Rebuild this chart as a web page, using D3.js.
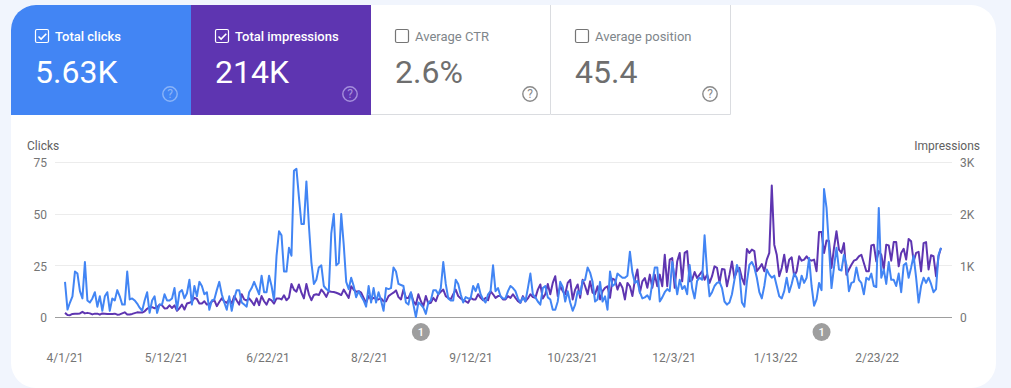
<!DOCTYPE html>
<html>
<head>
<meta charset="utf-8">
<script src="https://d3js.org/d3.v7.min.js"></script>
<style>
  html, body { margin: 0; padding: 0; background: #f1f5fd; overflow: hidden; }
  svg { display: block; font-family: Roboto, sans-serif; }
</style>
</head>
<body>
<svg id="chart"></svg>
<script>
// Metric tiles
const tileLabels = ["Total clicks", "Total impressions", "Average CTR", "Average position"];
const tileValues = ["5.63K", "214K", "2.6%", "45.4"];
const tileChecked = [true, true, false, false];

// Axis ticks
const clickTicks = [0, 25, 50, 75];
const impressionTicks = [0, 1000, 2000, 3000];
const impressionTickLabels = ["0", "1K", "2K", "3K"];
const dateTickLabels = ["4/1/21", "5/12/21", "6/22/21", "8/2/21", "9/12/21", "10/23/21", "12/3/21", "1/13/22", "2/23/22"];
const annotationDates = ["8/22/21", "1/30/22"];

// Daily values, first day is 4/1/21
const clicks = [
  17,3.6,7,10,22,21,12.5,9,26.6,8,7,9,12,5,10,3,10,12,3,9,8,13,10,6,6,
  22,8.5,9,8,6.5,4.5,3,8,12,2,8,10,2,6,6,11,8,8,9,14,3.5,12,13,9,11.5,
  18,6,15,10,17,15,11,12,3.5,8,8.5,13,17,11,7,3.5,10,3,9,13,13,7,6,5,12,
  14,17,14,11,20,12,12,20,15,8,29.6,41.5,39.5,22,22,33.5,29.6,70.7,71.7,58,45,45,65.6,44.4,26.6,
  16,18,24,25,15,13.5,12.5,40.5,49.8,25,26.1,49.8,35,17,13.5,19,15,9.6,12.5,10,8,5,15,7,14,
  7,12,8,3,14,13.5,14,24,22,16,15.5,15,7,6,12,6,0,7,6,4.5,1.5,7,8,13,13,
  11,14,26.6,16,9,8,8,18,16,11,7,9.6,9,9,15,12.5,16,11,8.5,7,11,12.5,25,12.5,14,
  10,9,9,12.5,15,14,12.5,9,7,9.5,7.5,14,21,11,9.5,7.5,6,14,15,9.5,8.5,3.5,3.5,7.5,17,
  14.5,7.5,12.5,7,3,6,12.5,11,17.5,18,24,21.5,17,7.5,8.5,17,7.5,10,3.5,22,15,16,21,20,19,
  19,20,31.6,21.5,16.5,17.5,12,9,9.5,10.5,8.5,16.5,24,24,7.5,9.5,12,13.5,12.5,26.6,19,11,18,13.5,15,
  11,25.2,14,9,17.5,19,18,39.5,22,10,12,15,16.5,17,14,7.5,6,7,11,18,25.2,21.5,7,5,17,
  25.2,26.6,24,19,12,9,15,23,20.5,19,20,15,10,9,12.5,19,12,16,21,19,14,20,16.5,19,28.6,
  15,5.5,8.5,16.5,13,61.9,52.8,33.5,14,24,33.5,23,22.5,30,25.2,12.5,16.5,17,24,18,16.5,11,19,18,21,
  15,14.5,52.8,19,23,16,26.6,18,18,15,21,12,25,26.1,19,24,29.6,19,7,15,19,16.5,19,16,12,
  13.5,30,33.5
];

const impressions = [
  80,40,35,60,65,65,70,100,70,80,70,50,65,65,45,70,65,60,60,60,65,45,50,70,90,
  50,50,60,75,90,85,85,110,160,190,190,170,190,240,225,165,170,225,175,225,120,170,240,145,260,
  275,300,370,350,260,260,305,240,250,300,325,210,290,360,300,275,340,260,405,320,240,440,340,320,360,
  300,230,360,230,405,305,240,350,320,260,360,360,340,420,325,375,640,530,490,630,470,360,640,440,325,
  425,440,425,530,470,390,500,490,485,470,450,425,530,450,370,595,530,490,500,470,370,275,405,340,370,
  350,340,360,305,305,405,440,470,515,385,340,530,370,370,470,305,240,440,305,210,405,260,275,370,305,
  440,490,530,405,370,340,440,530,405,360,325,305,275,370,340,340,440,370,325,370,325,500,440,370,405,
  405,340,340,405,370,440,370,305,275,405,305,360,440,385,370,530,630,360,440,640,440,660,790,405,595,
  500,440,660,720,340,530,630,370,720,595,440,690,470,440,595,340,500,565,595,370,740,720,530,660,565,
  340,660,595,405,720,920,470,690,755,565,820,565,820,595,820,595,1205,595,1110,1140,565,1075,1240,690,1240,
  1275,690,720,870,755,820,885,720,820,660,790,980,950,660,930,920,595,820,1075,755,885,950,755,630,1315,
  1240,1305,1275,885,950,1025,885,1110,1240,2545,1400,1205,790,950,1205,870,1110,1155,790,885,1175,1090,1110,1175,1110,
  1090,1110,885,1645,1645,1240,1480,1470,950,1335,1660,1305,1240,1430,820,920,1010,1090,1110,1175,1205,1045,885,885,1385,
  1400,1075,1275,1205,920,1400,1385,1090,1450,1450,980,1240,1320,1110,1510,1465,1075,1240,1260,885,1430,1450,920,1195,1175,
  790,1175,1335
];

function drawTiles(svg) {
  const tileColors = ["#4285f4", "#5e35b1", "#fff", "#fff"];
  const iconColors = ["#8ab4f8", "#a58fdc", "#8a8a8a", "#8a8a8a"];
  const tile = svg.selectAll(".tile")
    .data(tileLabels)
    .enter()
    .append("g")
    .attr("class", "tile")
    .attr("transform", (d, i) => `translate(${11 + i * 180},5)`);

  // First tile follows the rounded corner of the card
  tile.append("path")
    .attr("d", (d, i) => i === 0
      ? "M0,110V25A25,25 0 0 1 25,0H180V110Z"
      : "M0,0H180V110H0Z")
    .attr("fill", (d, i) => tileColors[i]);

  // Hairlines around the unselected tiles
  tile.filter((d, i) => !tileChecked[i])
    .append("path")
    .attr("d", "M179.5,0V109.5H0")
    .attr("fill", "none")
    .attr("stroke", "#dadce0");

  const ink = (d, i) => tileChecked[i] ? "#fff" : "#6e6e6e";

  tile.append("rect")
    .attr("x", 24.5)
    .attr("y", 24.5)
    .attr("width", 13)
    .attr("height", 13)
    .attr("rx", 1.5)
    .attr("fill", "none")
    .attr("stroke", (d, i) => tileChecked[i] ? "#fff" : "#757575")
    .attr("stroke-width", 1.2);

  tile.filter((d, i) => tileChecked[i])
    .append("path")
    .attr("d", "M27.5,31.5l2.6,2.6l5.2,-5.4")
    .attr("fill", "none")
    .attr("stroke", "#fff")
    .attr("stroke-width", 1.6);

  tile.append("text")
    .attr("x", 44)
    .attr("y", 36)
    .style("font-size", "13px")
    .style("font-weight", (d, i) => tileChecked[i] ? 500 : 400)
    .style("fill", (d, i) => tileChecked[i] ? "#fff" : "#80868b")
    .text(d => d);

  tile.append("text")
    .attr("x", 24)
    .attr("y", 78)
    .style("font-size", "32px")
    .style("font-weight", 400)
    .style("fill", ink)
    .text((d, i) => tileValues[i]);

  // Help icons
  tile.append("circle")
    .attr("cx", 159)
    .attr("cy", 89)
    .attr("r", 7.2)
    .attr("fill", "none")
    .attr("stroke", (d, i) => iconColors[i])
    .attr("stroke-width", 1.4);

  tile.append("text")
    .attr("x", 159)
    .attr("y", 93)
    .attr("text-anchor", "middle")
    .style("font-size", "12px")
    .style("fill", (d, i) => iconColors[i])
    .text("?");
}

function drawChart(svg) {
  const parseDate = d3.timeParse("%-m/%-d/%y");
  const start = parseDate(dateTickLabels[0]);
  const dayOf = i => d3.timeDay.offset(start, i);

  const x = d3.scaleTime()
    .domain([start, dayOf(clicks.length - 1)])
    .range([65, 941]);

  // Date labels sit slightly tighter than the data
  const xLabels = d3.scaleTime()
    .domain(x.domain())
    .range([64.5, 936]);

  const yClicks = d3.scaleLinear().domain([0, 75]).range([317, 162]);
  const yImpressions = d3.scaleLinear().domain([0, 3000]).range([317, 162]);

  // Gridlines
  svg.append("g")
    .selectAll("line")
    .data(clickTicks)
    .enter()
    .append("line")
    .attr("x1", 55)
    .attr("x2", 952)
    .attr("y1", d => Math.round(yClicks(d)) + 0.5)
    .attr("y2", d => Math.round(yClicks(d)) + 0.5)
    .attr("stroke", d => d === 0 ? "#9e9e9e" : "#ececec");

  // Y axis left
  const left = svg.append("g")
    .attr("transform", "translate(47,1)")
    .call(d3.axisLeft(yClicks).tickValues(clickTicks).tickSize(0).tickPadding(0));
  left.select(".domain").remove();

  // Y axis right
  const right = svg.append("g")
    .attr("transform", "translate(960,1)")
    .call(d3.axisRight(yImpressions)
      .tickValues(impressionTicks)
      .tickFormat((d, i) => impressionTickLabels[i])
      .tickSize(0)
      .tickPadding(0));
  right.select(".domain").remove();

  // X axis
  const bottom = svg.append("g")
    .attr("transform", "translate(0,346)")
    .call(d3.axisBottom(xLabels)
      .tickValues(dateTickLabels.map(parseDate))
      .tickFormat((d, i) => dateTickLabels[i])
      .tickSize(0)
      .tickPadding(7));
  bottom.select(".domain").remove();

  svg.selectAll(".tick text")
    .style("font-family", "Roboto, sans-serif")
    .style("font-size", "12px")
    .style("fill", "#757575");

  // Axis titles
  svg.append("text")
    .attr("x", 27)
    .attr("y", 150)
    .style("font-size", "12px")
    .style("fill", "#616161")
    .text("Clicks");

  svg.append("text")
    .attr("x", 980)
    .attr("y", 150)
    .attr("text-anchor", "end")
    .style("font-size", "12px")
    .style("fill", "#616161")
    .text("Impressions");

  // Lines
  const impressionLine = d3.line()
    .x((d, i) => x(dayOf(i)))
    .y(d => yImpressions(d));

  const clickLine = d3.line()
    .x((d, i) => x(dayOf(i)))
    .y(d => yClicks(d));

  svg.append("path")
    .attr("d", impressionLine(impressions))
    .attr("fill", "none")
    .attr("stroke", "#5e35b1")
    .attr("stroke-width", 2)
    .attr("stroke-linejoin", "round");

  svg.append("path")
    .attr("d", clickLine(clicks))
    .attr("fill", "none")
    .attr("stroke", "#4285f4")
    .attr("stroke-width", 2)
    .attr("stroke-linejoin", "round");

  // Annotation markers
  const marker = svg.selectAll(".marker")
    .data(annotationDates)
    .enter()
    .append("g")
    .attr("class", "marker")
    .attr("transform", d => `translate(${x(parseDate(d))},332)`);

  marker.append("circle")
    .attr("r", 9)
    .attr("fill", "#9e9e9e");

  marker.append("text")
    .attr("y", 4)
    .attr("text-anchor", "middle")
    .style("font-size", "11px")
    .style("font-weight", 500)
    .style("fill", "#fff")
    .text("1");
}

const svg = d3.select("#chart")
  .attr("width", 1011)
  .attr("height", 388);

// Card
svg.append("rect")
  .attr("x", 11)
  .attr("y", 5)
  .attr("width", 985)
  .attr("height", 383)
  .attr("rx", 25)
  .attr("fill", "#fff");

drawTiles(svg);
drawChart(svg);
</script>
</body>
</html>
